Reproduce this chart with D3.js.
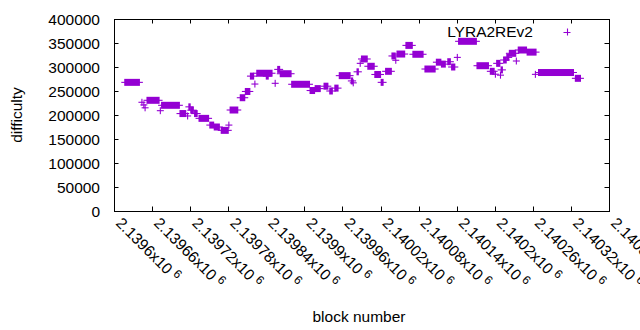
<!DOCTYPE html>
<html>
<head>
<meta charset="utf-8">
<script src="https://cdn.jsdelivr.net/npm/d3@7"></script>
<style>
body{margin:0;background:#fff;}
text{font-family:"Liberation Sans",Arial,sans-serif;fill:#000;}
</style>
</head>
<body>
<script>
// runs of consecutive blocks with the same difficulty (single block: start == end)
var runStart = [2139617,2139644,2139647,2139649,2139652,2139673,2139675,2139704,2139716,2139718,
  2139721,2139727,2139734,2139751,2139758,2139769,2139781,2139783,2139799,2139807,
  2139815,2139822,2139825,2139840,2139854,2139858,2139862,2139880,2139909,2139917,
  2139931,2139940,2139948,2139955,2139974,2139977,2139983,2139988,2139990,2140000,
  2140011,2140021,2140028,2140038,2140044,2140046,2140060,2140071,2140090,2140108,
  2140116,2140126,2140132,2140141,2140143,2140172,2140193,2140201,2140203,2140209,
  2140210,2140214,2140219,2140223,2140234,2140237,2140251,2140264,2140269,2140327];
var runEnd = [2139640,2139644,2139647,2139649,2139671,2139673,2139703,2139713,2139716,2139720,
  2139725,2139731,2139749,2139757,2139766,2139780,2139781,2139795,2139806,2139814,
  2139820,2139822,2139849,2139843,2139854,2139861,2139879,2139908,2139916,2139925,
  2139937,2139944,2139953,2139972,2139976,2139977,2139985,2139988,2139999,2140010,
  2140020,2140024,2140037,2140043,2140044,2140058,2140070,2140087,2140106,2140115,
  2140122,2140130,2140137,2140141,2140171,2140190,2140199,2140201,2140208,2140209,
  2140212,2140218,2140222,2140233,2140234,2140250,2140265,2140264,2140324,2140335];
var runDiff = [268000,226500,221000,215000,230600,209000,220200,203000,198000,217000,
  210000,203000,193000,179000,175000,168000,179000,210400,236000,249000,
  281000,264500,287000,281000,266000,295000,286000,264000,251000,255000,
  260000,250000,256000,282000,271000,267000,290000,307600,316700,301500,
  284400,268000,291000,323000,314000,327000,345000,326500,295800,310000,
  306000,311000,300000,320000,353500,302700,291000,285000,307600,283000,
  294000,314600,320000,328500,312500,335400,331000,284700,288500,276400];

var xTicks = [2139600,2139660,2139720,2139780,2139840,2139900,2139960,
  2140020,2140080,2140140,2140200,2140260,2140320,2140380];
var yTicks = [0,50000,100000,150000,200000,250000,300000,350000,400000];
var seriesName = "LYRA2REv2";
var xTitle = "block number", yTitle = "difficulty";

var width = 640, height = 330;
var plotLeft = 114, plotRight = 609, plotTop = 19, plotBottom = 211;
var arm = 3.5, tickLen = 4.5;
var purple = "#9400d3";

var svg = d3.select("body").append("svg")
  .attr("width", width).attr("height", height);

var x = d3.scaleLinear().domain([xTicks[0], xTicks[xTicks.length-1]]).range([plotLeft, plotRight]);
var y = d3.scaleLinear().domain([0, 400000]).range([plotBottom, plotTop]);

var runs = runStart.map(function(s,i){ return {s:s, e:runEnd[i], d:runDiff[i]}; });

//each run is drawn like overlapping '+' points: a thin line plus a solid block
var g = svg.append("g");
g.selectAll(".armline").data(runs).enter().append("line")
  .attr("x1", function(d){ return x(d.s)-arm; })
  .attr("x2", function(d){ return x(d.e)+arm; })
  .attr("y1", function(d){ return y(d.d); })
  .attr("y2", function(d){ return y(d.d); })
  .attr("stroke", purple).attr("stroke-width", 1.1);
g.selectAll(".block").data(runs).enter().append("rect")
  .attr("x", function(d){ return x(d.s)-0.55; })
  .attr("width", function(d){ return x(d.e)-x(d.s)+1.1; })
  .attr("y", function(d){ return y(d.d)-arm; })
  .attr("height", arm*2)
  .attr("fill", purple);

// frame with mirrored inward ticks
var axes = svg.append("g").attr("stroke","#000").attr("stroke-width",1);
axes.selectAll(".xt").data(xTicks).enter().append("path")
  .attr("d", function(d){ var px = Math.round(x(d))+0.5;
    return "M"+px+","+plotBottom+"v"+(-tickLen)+"M"+px+","+plotTop+"v"+tickLen; });
axes.selectAll(".yt").data(yTicks).enter().append("path")
  .attr("d", function(d){ var py = Math.round(y(d))+0.5;
    return "M"+plotLeft+","+py+"h"+tickLen+"M"+plotRight+","+py+"h"+(-tickLen); });
axes.append("rect").attr("x", plotLeft+0.5).attr("y", plotTop+0.5)
  .attr("width", plotRight-plotLeft).attr("height", plotBottom-plotTop).attr("fill","none");

svg.selectAll(".ylab").data(yTicks).enter().append("text")
  .attr("x", 100).attr("y", function(d){ return y(d)+5.5; })
  .attr("text-anchor","end").style("font-size","15.5px")
  .text(function(d){ return d; });

var xl = svg.selectAll(".xlab").data(xTicks).enter().append("text")
  .attr("transform", function(d){ return "translate("+(x(d)+1)+","+(plotBottom+13)+") rotate(45)"; })
  .style("font-size","15.5px");
xl.append("tspan").text(function(d){ return String(parseFloat((d/1e6).toFixed(5)))+"x10"; });
xl.append("tspan").attr("dx",4).attr("dy",-5).style("font-size","12px").text("6");

svg.append("text").attr("x", 359).attr("y", 321.5).attr("text-anchor","middle")
  .style("font-size","15.5px").text(xTitle);
svg.append("text").attr("transform","translate(22,115) rotate(-90)").attr("text-anchor","middle")
  .style("font-size","15.5px").text(yTitle);

// legend
svg.append("text").attr("x", 533).attr("y", 37.3).attr("text-anchor","end")
  .style("font-size","15.5px").text(seriesName);
svg.append("path").attr("d","M"+(567-arm)+",32.5h"+(arm*2)+"M567.5,"+(32-arm)+"v"+(arm*2))
  .attr("stroke", purple).attr("stroke-width",1.1);
</script>
</body>
</html>
